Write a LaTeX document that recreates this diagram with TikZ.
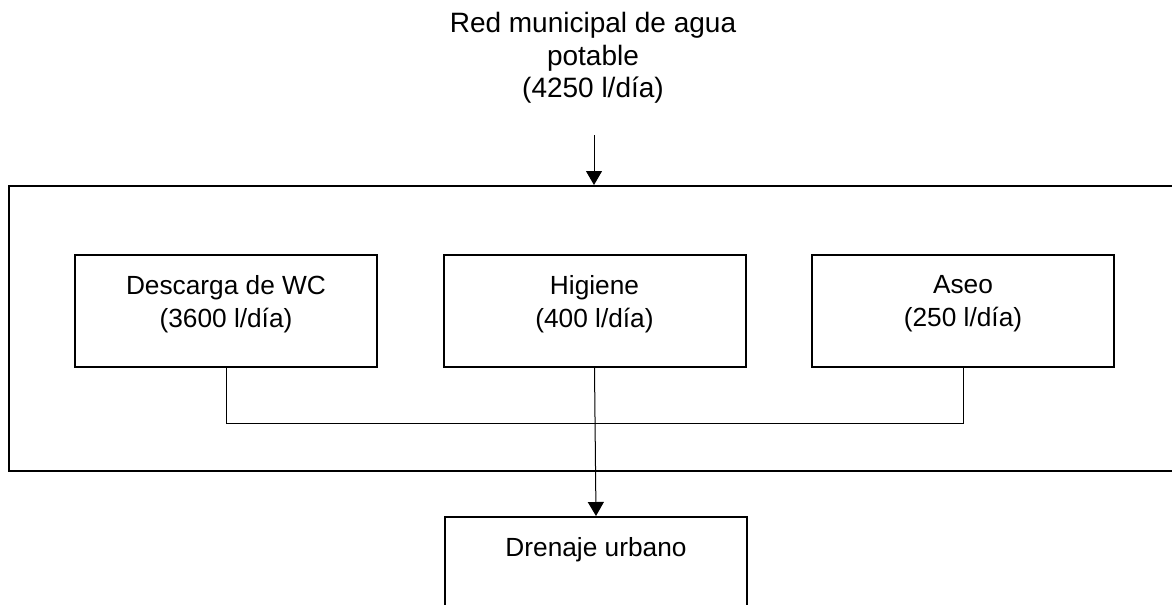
\documentclass[tikz,border=0pt]{standalone}
\usepackage{fontspec}
\setmainfont{Liberation Sans}
\usetikzlibrary{arrows.meta}
% extra depth below the last line so two-line labels sit high in their boxes
\newcommand\lowpad{\rule[-14.9pt]{0pt}{0pt}}
\begin{document}
\begin{tikzpicture}[x=0.75pt,y=-0.75pt,
  usebox/.style={draw,line width=1.5pt,rectangle,minimum width=226.5pt,
    minimum height=84pt,inner sep=0pt,align=center,
    font=\fontsize{19.7}{24.75}\selectfont},
  frame/.style={draw,line width=1.5pt,rectangle,minimum width=885.75pt,
    minimum height=213.75pt,inner sep=0pt},
  flow/.style={line width=0.75pt,-{Triangle[width=12pt,length=10.5pt]}},
  pipe/.style={line width=0.75pt}]
\useasboundingbox (0,0) rectangle (1172,604);
\clip (0,0) rectangle (1172,604);

% supply
\node[anchor=north,inner sep=0pt,align=center,
  font=\fontsize{21}{24.4}\selectfont] (supply) at (593,12)
  {Red municipal de agua\\potable\\(4250 l/día)};
\coordinate (feed) at (594,135);

% building boundary
\node[frame] (building) at (599.5,328.5) {};

% consumers
\node[usebox] (wc) at (226,311) {Descarga de WC\\(3600 l/día)\lowpad};
\node[usebox] (hyg) at (594.5,311) {Higiene\\(400 l/día)\lowpad};
\node[usebox] (aseo) at (963,311) {Aseo\\(250 l/día)\lowpad};

% discharge
\node[usebox] (drain) at (596,573) {Drenaje urbano\\\lowpad};

% connections
\draw[flow] (feed) -- (feed |- building.north);
\draw[pipe] (wc.south) -- ++(0,55) -| (aseo.south);
\draw[flow] (hyg.south) -- (drain.north);
\end{tikzpicture}
\end{document}
